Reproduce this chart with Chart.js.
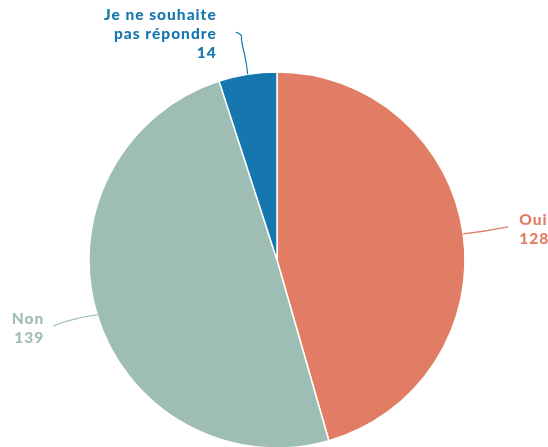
<!DOCTYPE html>
<html lang="fr">
  <head>
    <meta charset="utf-8" />
    <title>Pie chart</title>
    <style>
      * { margin: 0; padding: 0; }
      html, body { width: 548px; height: 447px; overflow: hidden; background: #fff; }
      .chartBox { width: 548px; height: 447px; }
    </style>
  </head>
  <body>
    <div class="chartBox">
      <canvas id="myChart"></canvas>
    </div>

    <script src="https://cdn.jsdelivr.net/npm/chart.js"></script>
    <script>
      const categories = ["Oui", "Non", "Je ne souhaite pas répondre"];
      const answers = [128, 139, 14];
      const sliceColors = ["#e07d64", "#9ebdb5", "#1577ae"];
      // label lines, broken as in the picture
      const labelLines = [["Oui", "128"], ["Non", "139"], ["Je ne souhaite", "pas répondre", "14"]];

      // leader line + text placement per slice (offsets from slice mid point on the rim)
      const labelSetup = [
        { dx: 45, dy: -7, align: "left", tx: 11, ty: -2, curve: false },
        { dx: -44, dy: 11, align: "right", tx: -10, ty: -2, curve: false },
        { dx: -12, dy: -40, align: "right", tx: -20, ty: -14, curve: true },
      ];

      const outerLabels = {
        id: "outerLabels",
        afterDraw(chart) {
          const { ctx } = chart;
          const meta = chart.getDatasetMeta(0);
          ctx.save();
          ctx.font = "900 15.5px Lato";
          ctx.letterSpacing = "1px";
          ctx.lineWidth = 1.2;
          meta.data.forEach((arc, i) => {
            const { x, y, startAngle, endAngle, outerRadius } = arc.getProps(
              ["x", "y", "startAngle", "endAngle", "outerRadius"], true
            );
            const mid = (startAngle + endAngle) / 2;
            const sx = x + Math.cos(mid) * outerRadius;
            const sy = y + Math.sin(mid) * outerRadius;
            const s = labelSetup[i];
            const ex = sx + s.dx;
            const ey = sy + s.dy;
            ctx.strokeStyle = sliceColors[i];
            ctx.beginPath();
            ctx.moveTo(sx, sy);
            if (s.curve) {
              ctx.bezierCurveTo(sx - 2, sy - 22, ex + 4, ey + 6, ex + 6, ey + 2);
              ctx.quadraticCurveTo(ex + 5, ey - 1, ex, ey - 2);
            } else {
              ctx.quadraticCurveTo((sx + ex) / 2, (sy + ey) / 2 + (s.dx > 0 ? 1 : -3), ex, ey);
            }
            ctx.stroke();

            ctx.fillStyle = sliceColors[i];
            ctx.textAlign = s.align;
            ctx.textBaseline = "alphabetic";
            const lines = labelLines[i];
            const lh = 18.7;
            const tx = ex + s.tx;
            const ty = ey + s.ty;
            lines.forEach((line, k) => {
              const lx = s.align === "right" ? tx + 1 : tx;
              ctx.fillText(line, lx, ty + k * lh);
            });
          });
          ctx.restore();
        },
      };

      const data = {
        labels: categories,
        datasets: [
          {
            data: answers,
            backgroundColor: sliceColors,
            borderColor: "#ffffff",
            borderWidth: 1.5,
            radius: 188,
          },
        ],
      };

      const config = {
        type: "pie",
        data: data,
        options: {
          responsive: true,
          maintainAspectRatio: false,
          animation: false,
          layout: { padding: { top: 73, bottom: 0, left: 89, right: 83 } },
          plugins: {
            legend: { display: false },
            tooltip: { enabled: false },
          },
        },
        plugins: [outerLabels],
      };

      const myChart = new Chart(document.getElementById("myChart"), config);
    </script>
  </body>
</html>
